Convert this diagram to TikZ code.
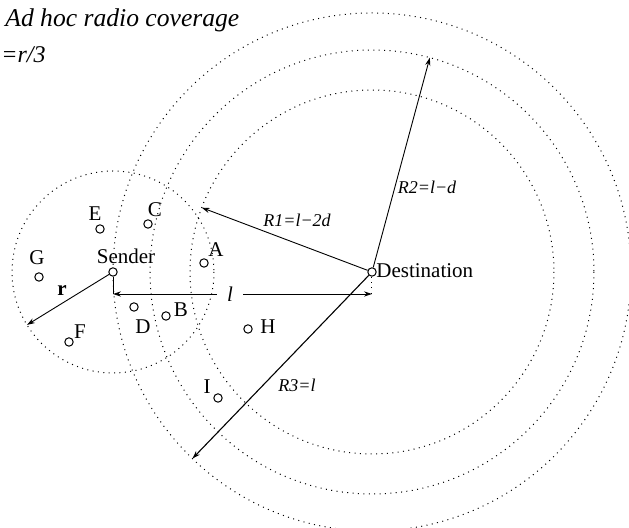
\documentclass[tikz,border=0pt]{standalone}
\usepackage{fontspec}
\setmainfont{Liberation Serif}
\usetikzlibrary{calc,arrows.meta}

\tikzset{
  stn/.style={circle, draw, fill=white, inner sep=0pt, minimum size=4.2pt, line width=0.5pt},
  cover/.style={line width=0.5pt, dash pattern=on 0.5pt off 2.2pt},
  arr/.style={-{Stealth[length=4pt,width=2.6pt]}, line width=0.45pt},
  tag/.style={font=\fontsize{10.5}{12}\selectfont, inner sep=0pt},
  rtag/.style={font=\fontsize{9}{11}\selectfont\itshape, inner sep=0pt}
}

\begin{document}
\begin{tikzpicture}[x=0.5pt, y=-0.5pt]
  \useasboundingbox (0,0) rectangle (629,528);
  \clip (0,0) rectangle (629,528);

  % title lines
  \node[anchor=base west, inner sep=0pt, font=\fontsize{12.8}{14}\selectfont\itshape] (ttl) at (5,27) {Ad hoc radio coverage};
  \node[anchor=base west, inner sep=0pt, font=\fontsize{12}{14}\selectfont\itshape] (drel) at (1,63) {=r/3};

  % coverage circles
  \draw[cover] (113,272) circle[radius=101];
  \foreach \rr in {182,222,259}
    \draw[cover] (372,272) circle[radius=\rr];

  % sender and destination
  \node[stn] (snd) at (113,272) {};
  \node[stn] (dst) at (372,272) {};
  \node[tag] (snd-lbl) at (126,256) {Sender};
  \node[tag, anchor=west] (dst-lbl) at (376,271) {Destination};

  % other stations
  \foreach \nm/\px/\py/\lx/\ly in {A/204/263/216/250, B/166/316/181/310, C/148/224/155/210,
      D/134/307/143/327, E/100/229/95/214, F/69/342/80/332, G/39/277/37/258,
      H/248/329/268/327, I/218/398/207/387}
  {
    \node[stn] (\nm) at (\px,\py) {};
    \node[tag] (\nm-lbl) at (\lx,\ly) {\nm};
  }

  % distance l
  \coordinate (lL) at (113,294);
  \coordinate (lR) at (372,294);
  \draw[line width=0.45pt] (snd) -- (lL);
  \draw[cover] (dst) -- (lR);
  \draw[{Stealth[length=4pt,width=2.6pt]}-{Stealth[length=4pt,width=2.6pt]}, line width=0.45pt]
    (lL) -- node[pos=0.452, fill=white, tag, inner xsep=5pt, font=\fontsize{10.5}{12}\selectfont\itshape] (ltag) {l} (lR);

  % radii
  \draw[arr] (snd) -- node[midway, above, inner sep=2pt, xshift=-3pt, font=\fontsize{10.5}{12}\selectfont\bfseries] (rtag) {r} ($(snd)+(148.4:101)$);
  \draw[arr] (dst) -- ($(dst)+(200.7:182)$);
  \draw[arr] (dst) -- ($(dst)+(285.1:222)$);
  \draw[arr, line width=0.55pt] (dst) -- ($(dst)+(133.9:259)$);
  \node[rtag] (r1) at (297,220) {R1=l−2d};
  \node[rtag] (r2) at (427,187) {R2=l−d};
  \node[rtag] (r3) at (297,385) {R3=l};
\end{tikzpicture}
\end{document}
